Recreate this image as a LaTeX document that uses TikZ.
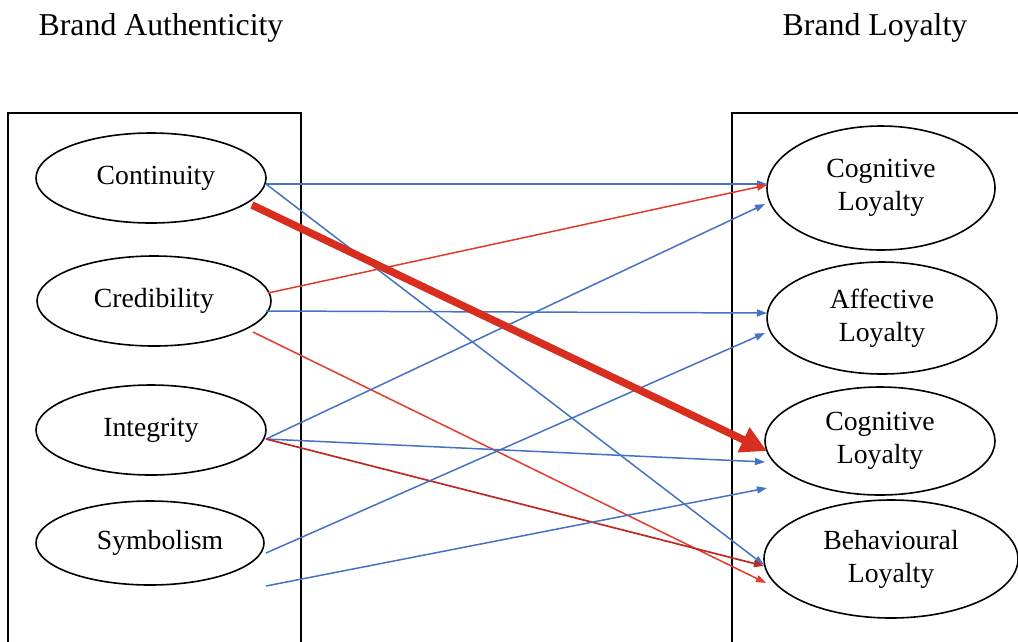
\documentclass[tikz,border=0pt]{standalone}
\usepackage{fontspec}
\setmainfont{Liberation Serif}
\usetikzlibrary{shapes.geometric,arrows.meta}
\definecolor{ablue}{RGB}{68,114,196}
\definecolor{ared}{RGB}{228,58,42}
\definecolor{athick}{RGB}{216,46,32}
\definecolor{adred}{RGB}{190,42,34}
\begin{document}
\begin{tikzpicture}[x=1pt,y=-1pt,
  oval/.style={draw,ellipse,line width=1.6pt,inner sep=0pt,align=center,
    font=\fontsize{27.7}{33}\selectfont},
  ttl/.style={font=\fontsize{31.8}{38}\selectfont,anchor=base,inner sep=0pt},
  frame/.style={draw,line width=1.8pt},
  blu/.style={draw=ablue,line width=1.5pt,-{Triangle[length=10pt,width=7pt]}},
  rd/.style={draw=ared,line width=1.5pt,-{Triangle[length=10pt,width=7pt]}},
  drd/.style={draw=adred,line width=1.7pt,-{Triangle[length=10pt,width=7pt]}},
  thick arrow/.style={draw=athick,line width=7.5pt,-{Triangle[length=26pt,width=26pt]}}
]
\useasboundingbox (0,0) rectangle (1018,641);
\clip (0,0) rectangle (1018,641);

% titles
\node[ttl] (t1) at (161,35) {Brand Authenticity};
\node[ttl] (t2) at (875,35) {Brand Loyalty};

% frames
\draw[frame] (8,700) -- (8,113) -- (301,113) -- (301,700);
\draw[frame] (732,700) -- (732,113) -- (1030,113);

% left ellipses
\node[oval,minimum width=230pt,minimum height=90pt] (cont) at (151,178) {\hspace*{10pt}Continuity};
\node[oval,minimum width=234pt,minimum height=90pt] (cred) at (154,301) {Credibility};
\node[oval,minimum width=230pt,minimum height=90pt] (integ) at (151,430) {Integrity};
\node[oval,minimum width=228pt,minimum height=84pt] (symb) at (150,543) {\hspace*{20pt}Symbolism};

% right ellipses
\node[oval,minimum width=228pt,minimum height=124pt] (cog1) at (881,188) {Cognitive\\Loyalty};
\node[oval,minimum width=230pt,minimum height=112pt] (aff) at (882,318) {Affective\\Loyalty};
\node[oval,minimum width=230pt,minimum height=108pt] (cog2) at (880,441) {Cognitive\\Loyalty};
\node[oval,minimum width=254pt,minimum height=118pt] (beh) at (891,559) {Behavioural\\Loyalty};

% connectors
\draw[blu] ([shift={(115,6)}]cont.center) -- ([shift={(-114,-4)}]cog1.center);
\draw[blu] ([shift={(115,6)}]cont.center) -- ([shift={(-127,6)}]beh.center);
\draw[rd] ([shift={(114,-8)}]cred.center) -- ([shift={(-114,-3)}]cog1.center);
\draw[blu] ([shift={(112,10)}]cred.center) -- ([shift={(-115,-5)}]aff.center);
\draw[rd] ([shift={(99,31)}]cred.center) -- ([shift={(-125,24)}]beh.center);
\draw[blu] ([shift={(115,9)}]integ.center) -- ([shift={(-116,16)}]cog1.center);
\draw[blu] ([shift={(115,9)}]integ.center) -- ([shift={(-115,21)}]cog2.center);
\draw[drd] ([shift={(115,9)}]integ.center) -- ([shift={(-127,7)}]beh.center);
\draw[blu] ([shift={(116,10)}]symb.center) -- ([shift={(-117,15)}]aff.center);
\draw[blu] ([shift={(116,43)}]symb.center) -- ([shift={(-113,47)}]cog2.center);
\draw[thick arrow] ([shift={(101,27)}]cont.center) -- ([shift={(-113,10)}]cog2.center);
\end{tikzpicture}
\end{document}
